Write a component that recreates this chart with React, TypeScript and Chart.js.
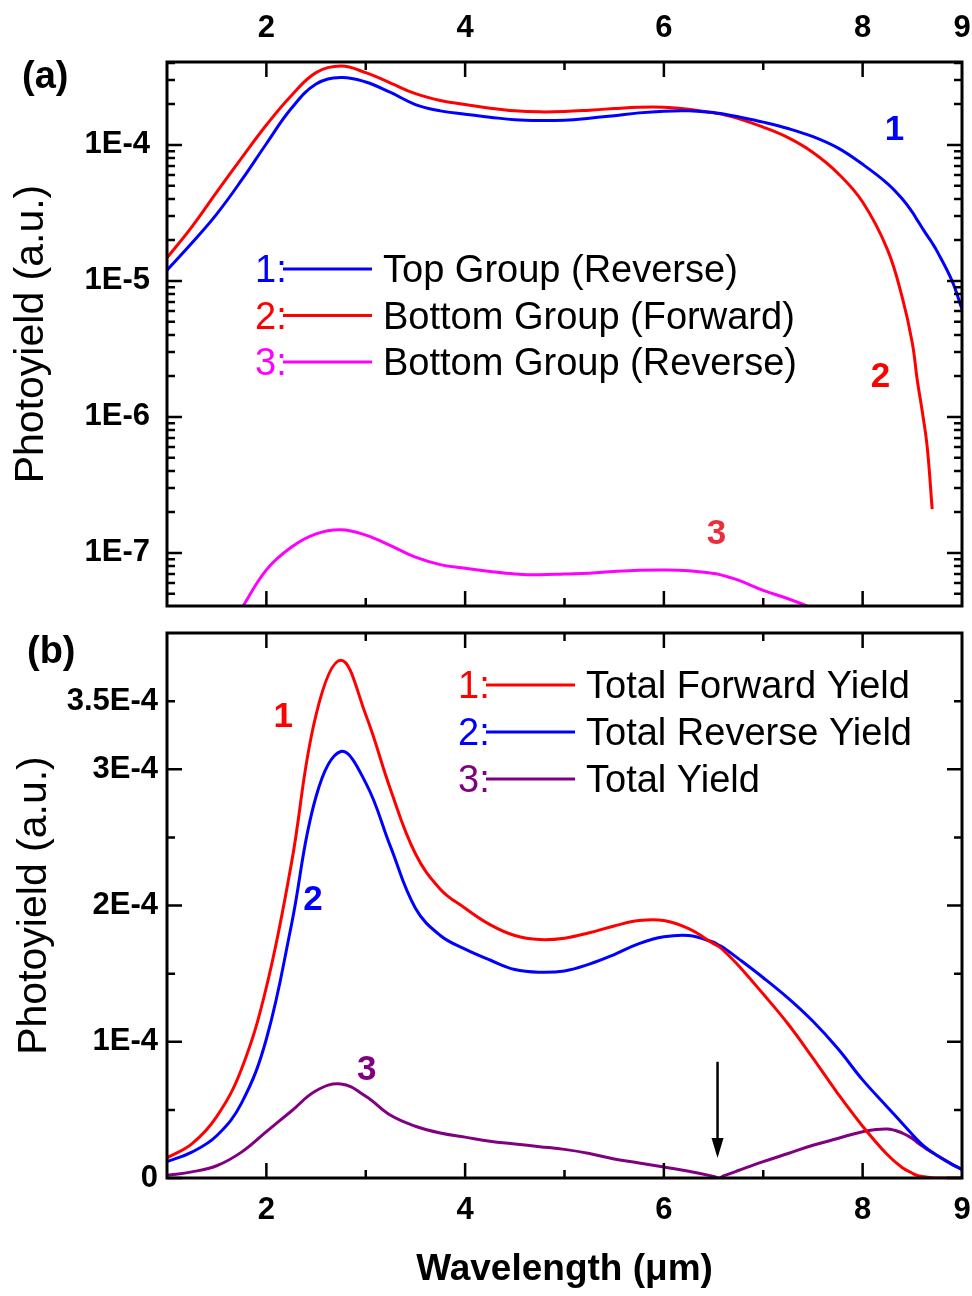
import React, { useEffect, useRef } from 'react';
import { Chart, registerables } from 'chart.js';

Chart.register(...registerables);

// ---------------- data ----------------
const wavelength = [1.0, 1.25, 1.5, 1.75, 2.0, 2.25, 2.5, 2.75, 3.0, 3.25, 3.5, 3.75, 4.0, 4.25, 4.5, 4.75, 5.0, 5.25, 5.5, 5.75, 6.0, 6.25, 6.5, 6.55, 6.6, 6.75, 7.0, 7.25, 7.5, 7.75, 8.0, 8.25, 8.4, 8.5, 8.55, 8.6, 8.65, 8.7, 8.75, 8.9, 9.0];

// units of 1E-4
const forwardYield = [0.148, 0.25, 0.45, 0.80, 1.40, 2.30, 3.40, 3.80, 3.40, 2.85, 2.38, 2.12, 1.98, 1.86, 1.78, 1.75, 1.76, 1.80, 1.85, 1.89, 1.89, 1.83, 1.72, 1.70, 1.67, 1.56, 1.35, 1.13, 0.88, 0.62, 0.38, 0.17, 0.075, 0.035, 0.0186, 0.011, 0.006, 0.0021, 0, 0, 0];
const reverseYield = [0.12, 0.19, 0.31, 0.55, 1.02, 1.85, 2.80, 3.13, 2.90, 2.43, 1.98, 1.78, 1.68, 1.60, 1.53, 1.51, 1.52, 1.57, 1.64, 1.72, 1.77, 1.78, 1.73, 1.71, 1.69, 1.61, 1.47, 1.32, 1.15, 0.95, 0.72, 0.52, 0.40, 0.32, 0.28, 0.245, 0.215, 0.19, 0.165, 0.10, 0.062];
const totalYield = [0.02, 0.045, 0.09, 0.19, 0.34, 0.49, 0.64, 0.69, 0.60, 0.46, 0.38, 0.33, 0.30, 0.27, 0.25, 0.23, 0.21, 0.18, 0.14, 0.11, 0.08, 0.05, 0.012, 0.0, 0.015, 0.055, 0.12, 0.18, 0.24, 0.29, 0.34, 0.36, 0.33, 0.29, 0.26, 0.235, 0.21, 0.188, 0.165, 0.10, 0.062];
// units of 1E-8
const bottomReverseYield = [0.6, 1.0, 2.0, 3.9, 7.5, 11.0, 13.8, 14.8, 13.5, 11.3, 9.3, 8.2, 7.7, 7.3, 7.0, 6.9, 7.0, 7.1, 7.3, 7.45, 7.5, 7.4, 7.05, 6.95, 6.8, 6.3, 5.3, 4.6, 3.9, 3.2, 2.5, null, null, null, null, null, null, null, null, null, null];

const UNIT_MAIN = 1e-4;
const UNIT_SMALL = 1e-8;

const xTickValues = [2, 4, 6, 8, 9];
const xTickLabels = ['2', '4', '6', '8', '9'];
const xMajorTicks = [2, 4, 6, 8];
const xMinorTicks = [3, 5, 7];

const logTickValues = [1e-7, 1e-6, 1e-5, 1e-4];
const logTickLabels = ['1E-7', '1E-6', '1E-5', '1E-4'];

const linTickValues = [0, 1e-4, 2e-4, 3e-4, 3.5e-4];
const linTickLabels = ['0', '1E-4', '2E-4', '3E-4', '3.5E-4'];
const linMajorTicks = [0, 1e-4, 2e-4, 3e-4];
const linMinorTicks = [0.5e-4, 1.5e-4, 2.5e-4, 3.5e-4];

const legendA = [
  { num: '1:', label: 'Top Group (Reverse)', color: '#0000FF' },
  { num: '2:', label: 'Bottom Group (Forward)', color: '#FF0000' },
  { num: '3:', label: 'Bottom Group (Reverse)', color: '#FF00FF' },
];
const legendB = [
  { num: '1:', label: 'Total Forward Yield', color: '#FF0000' },
  { num: '2:', label: 'Total Reverse Yield', color: '#0000FF' },
  { num: '3:', label: 'Total Yield', color: '#800080' },
];

const annotationsA = [
  { text: '1', x: 8.32, y: 1.27e-4, color: '#0000FF' },
  { text: '2', x: 8.18, y: 1.94e-6, color: '#FF0000' },
  { text: '3', x: 6.53, y: 1.38e-7, color: '#E8303C' },
];
const annotationsB = [
  { text: '1', x: 2.17, y: 3.38e-4, color: '#FF0000' },
  { text: '2', x: 2.47, y: 2.04e-4, color: '#0000FF' },
  { text: '3', x: 3.01, y: 0.79e-4, color: '#800080' },
];
const arrowB = { x: 6.54, yFrom: 0.853e-4, yTo: 0.147e-4 };

// ---------------- styling ----------------
const FAMILY = '"Liberation Sans", Arial, sans-serif';
const BLUE = '#0000FF';
const RED = '#FF0000';
const MAGENTA = '#FF00FF';
const PURPLE = '#800080';
const LINE_W = 3;

function logMinorTicks(min: number, max: number): number[] {
  const out: number[] = [];
  for (let e = -9; e <= -3; e++) {
    for (let k = 2; k <= 9; k++) {
      const v = k * Math.pow(10, e);
      if (v > min && v < max) out.push(v);
    }
  }
  return out;
}

function drawFrame(chart: any, yMajor: number[], yMinor: number[]) {
  const { ctx, chartArea, scales } = chart;
  const { left, right, top, bottom } = chartArea;
  const xs = scales.x;
  const ys = scales.y;
  const MAJ = 15;
  const MIN = 8;
  ctx.save();
  ctx.strokeStyle = '#000';
  ctx.lineWidth = 2.5;
  ctx.lineCap = 'butt';
  ctx.beginPath();
  const xt = (vals: number[], len: number) => {
    vals.forEach((v) => {
      const p = xs.getPixelForValue(v);
      ctx.moveTo(p, top);
      ctx.lineTo(p, top + len);
      ctx.moveTo(p, bottom);
      ctx.lineTo(p, bottom - len);
    });
  };
  const yt = (vals: number[], len: number) => {
    vals.forEach((v) => {
      const p = ys.getPixelForValue(v);
      ctx.moveTo(left, p);
      ctx.lineTo(left + len, p);
      ctx.moveTo(right, p);
      ctx.lineTo(right - len, p);
    });
  };
  xt(xMajorTicks, MAJ);
  xt(xMinorTicks, MIN);
  yt(yMajor, MAJ);
  yt(yMinor, MIN);
  ctx.stroke();
  ctx.lineWidth = 3;
  ctx.strokeRect(left, top, right - left, bottom - top);
  ctx.restore();
}

function drawLegend(ctx: CanvasRenderingContext2D, rows: any[], x0: number, y0: number, dy: number) {
  ctx.save();
  ctx.font = `38px ${FAMILY}`;
  ctx.textBaseline = 'alphabetic';
  ctx.textAlign = 'left';
  rows.forEach((r, i) => {
    const by = y0 + i * dy;
    ctx.fillStyle = r.color;
    ctx.fillText(r.num, x0, by);
    ctx.strokeStyle = r.color;
    ctx.lineWidth = 3;
    ctx.beginPath();
    ctx.moveTo(x0 + 28, by - 13);
    ctx.lineTo(x0 + 117, by - 13);
    ctx.stroke();
    ctx.fillStyle = '#000';
    ctx.fillText(r.label, x0 + 128, by);
  });
  ctx.restore();
}

function drawAnnotations(chart: any, list: any[]) {
  const { ctx, scales } = chart;
  ctx.save();
  ctx.font = `bold 35px ${FAMILY}`;
  ctx.textAlign = 'center';
  ctx.textBaseline = 'middle';
  list.forEach((a) => {
    ctx.fillStyle = a.color;
    ctx.fillText(a.text, scales.x.getPixelForValue(a.x), scales.y.getPixelForValue(a.y));
  });
  ctx.restore();
}

function drawPanelLabel(ctx: CanvasRenderingContext2D, text: string, x: number, y: number) {
  ctx.save();
  ctx.font = `bold 38px ${FAMILY}`;
  ctx.fillStyle = '#000';
  ctx.textAlign = 'left';
  ctx.textBaseline = 'middle';
  ctx.fillText(text, x, y);
  ctx.restore();
}

const tickFont = { family: FAMILY, size: 31, weight: 'bold' as const };
const titleFont = { family: FAMILY, size: 41, weight: 'normal' as const };

function lineDataset(label: string, values: (number | null)[], unit: number, color: string, logSafe: boolean) {
  return {
    label,
    data: wavelength.map((x, i) => {
      const v = values[i];
      let y: number | null = v === null ? null : v * unit;
      if (logSafe && y !== null && y <= 0) y = null;
      return { x, y };
    }),
    borderColor: color,
    backgroundColor: color,
    borderWidth: LINE_W,
    pointRadius: 0,
    tension: 0.4,
    spanGaps: false,
    fill: false,
  };
}

export default function App() {
  const refA = useRef<HTMLCanvasElement>(null);
  const refB = useRef<HTMLCanvasElement>(null);

  useEffect(() => {
    const logMin = 4.07e-8;
    const logMax = 4.07e-4;
    const minorLog = logMinorTicks(logMin, logMax);

    const xAxisBase = (position: 'top' | 'bottom', height: number, padding: number, title?: any) => ({
      type: 'linear' as const,
      position,
      min: 1,
      max: 9,
      afterBuildTicks: (s: any) => {
        s.ticks = xTickValues.map((v) => ({ value: v }));
      },
      afterFit: (s: any) => {
        s.height = height;
        s.paddingLeft = 0;
        s.paddingRight = 0;
      },
      ticks: {
        autoSkip: false,
        maxRotation: 0,
        minRotation: 0,
        padding,
        color: '#000',
        font: tickFont,
        callback: (_v: any, i: number) => xTickLabels[i],
      },
      grid: { display: false, drawTicks: false },
      border: { display: false },
      title: title || { display: false },
    });

    const chartA = new Chart(refA.current as HTMLCanvasElement, {
      type: 'line',
      data: {
        datasets: [
          lineDataset('Top Group (Reverse)', reverseYield, UNIT_MAIN, BLUE, true),
          lineDataset('Bottom Group (Forward)', forwardYield, UNIT_MAIN, RED, true),
          lineDataset('Bottom Group (Reverse)', bottomReverseYield, UNIT_SMALL, MAGENTA, true),
        ],
      },
      options: {
        animation: false,
        responsive: false,
        devicePixelRatio: 1,
        layout: { padding: { left: 0, right: 10, top: 0, bottom: 14 } },
        plugins: { legend: { display: false }, tooltip: { enabled: false } },
        scales: {
          x: xAxisBase('top', 62, 15) as any,
          y: {
            type: 'logarithmic',
            position: 'left',
            min: logMin,
            max: logMax,
            bounds: 'data',
            afterBuildTicks: (s: any) => {
              s.ticks = logTickValues.map((v) => ({ value: v }));
            },
            afterFit: (s: any) => {
              s.width = 167;
              s.paddingTop = 0;
              s.paddingBottom = 0;
            },
            ticks: {
              autoSkip: false,
              padding: 17,
              color: '#000',
              font: tickFont,
              callback: (_v: any, i: number) => logTickLabels[i],
            },
            grid: { display: false, drawTicks: false },
            border: { display: false },
            title: {
              display: true,
              text: 'Photoyield (a.u.)',
              color: '#000',
              font: titleFont,
              padding: { top: 7, bottom: 0 },
            },
          } as any,
        },
      },
      plugins: [
        {
          id: 'decorA',
          afterDatasetsDraw(chart: any) {
            drawFrame(chart, logTickValues, minorLog);
          },
          afterDraw(chart: any) {
            drawLegend(chart.ctx, legendA, 255, 282, 46.5);
            drawAnnotations(chart, annotationsA);
            drawPanelLabel(chart.ctx, '(a)', 22, 78);
          },
        },
      ],
    });

    const chartB = new Chart(refB.current as HTMLCanvasElement, {
      type: 'line',
      data: {
        datasets: [
          lineDataset('Total Forward Yield', forwardYield, UNIT_MAIN, RED, false),
          lineDataset('Total Reverse Yield', reverseYield, UNIT_MAIN, BLUE, false),
          lineDataset('Total Yield', totalYield, UNIT_MAIN, PURPLE, false),
        ],
      },
      options: {
        animation: false,
        responsive: false,
        devicePixelRatio: 1,
        layout: { padding: { left: 0, right: 10, top: 13, bottom: 0 } },
        plugins: { legend: { display: false }, tooltip: { enabled: false } },
        scales: {
          x: xAxisBase('bottom', 118, 14, {
            display: true,
            text: 'Wavelength (\u03bcm)',
            color: '#000',
            font: { family: FAMILY, size: 37, weight: 'bold' },
            padding: { top: 0, bottom: 4 },
          }) as any,
          y: {
            type: 'linear',
            position: 'left',
            min: 0,
            max: 4e-4,
            afterBuildTicks: (s: any) => {
              s.ticks = linTickValues.map((v) => ({ value: v }));
            },
            afterFit: (s: any) => {
              s.width = 167;
              s.paddingTop = 0;
              s.paddingBottom = 0;
            },
            ticks: {
              autoSkip: false,
              padding: 9,
              color: '#000',
              font: tickFont,
              callback: (_v: any, i: number) => linTickLabels[i],
            },
            grid: { display: false, drawTicks: false },
            border: { display: false },
            title: {
              display: true,
              text: 'Photoyield (a.u.)',
              color: '#000',
              font: titleFont,
              padding: { top: 10, bottom: 0 },
            },
          } as any,
        },
      },
      plugins: [
        {
          id: 'decorB',
          afterDatasetsDraw(chart: any) {
            drawFrame(chart, linMajorTicks, linMinorTicks);
          },
          afterDraw(chart: any) {
            const { ctx, scales } = chart;
            drawLegend(ctx, legendB, 458, 78, 47);
            drawAnnotations(chart, annotationsB);
            drawPanelLabel(ctx, '(b)', 27, 33);
            const ax = scales.x.getPixelForValue(arrowB.x);
            const y0 = scales.y.getPixelForValue(arrowB.yFrom);
            const y1 = scales.y.getPixelForValue(arrowB.yTo);
            ctx.save();
            ctx.strokeStyle = '#000';
            ctx.fillStyle = '#000';
            ctx.lineWidth = 2.5;
            ctx.beginPath();
            ctx.moveTo(ax, y0);
            ctx.lineTo(ax, y1 - 16);
            ctx.stroke();
            ctx.beginPath();
            ctx.moveTo(ax - 6, y1 - 20);
            ctx.lineTo(ax + 6, y1 - 20);
            ctx.lineTo(ax, y1);
            ctx.closePath();
            ctx.fill();
            ctx.restore();
          },
        },
      ],
    });

    return () => {
      chartA.destroy();
      chartB.destroy();
    };
  }, []);

  return (
    <div style={{ position: 'absolute', left: 0, top: 0, width: 972, height: 1296, background: '#fff' }}>
      <canvas ref={refA} width={972} height={620} style={{ position: 'absolute', left: 0, top: 0 }} />
      <canvas ref={refB} width={972} height={676} style={{ position: 'absolute', left: 0, top: 620 }} />
    </div>
  );
}
